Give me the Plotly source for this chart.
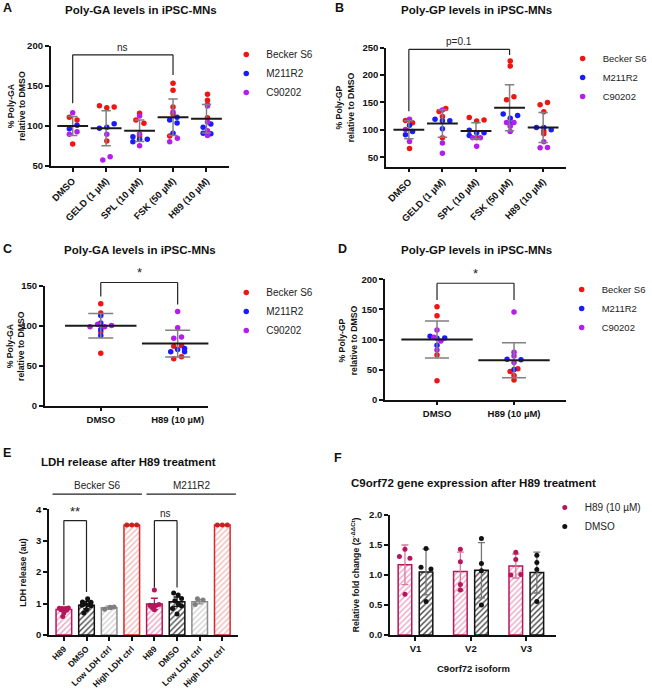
import plotly.graph_objects as go

W, H = 652, 692
FONT = "Liberation Sans"

# ---------------- data ----------------
treatments = ["DMSO", "GELD (1 µM)", "SPL (10 µM)", "FSK (50 µM)", "H89 (10 µM)"]
treatments_2 = ["DMSO", "H89 (10 µM)"]
cell_lines = ["Becker S6", "M211R2", "C90202"]
cell_codes = ["B", "M", "C"]

# panel A: poly-GA, 5 treatments (group index, cell line code, value, jitter)
a_grp = [0, 0, 0, 0, 0, 0, 0, 0,
         1, 1, 1, 1, 1, 1, 1, 1, 1, 1,
         2, 2, 2, 2, 2, 2, 2, 2, 2, 2, 2,
         3, 3, 3, 3, 3, 3, 3, 3, 3, 3, 3, 3,
         4, 4, 4, 4, 4, 4, 4, 4, 4, 4, 4, 4]
a_cell = "CBBMMCCB" "BBBMMMCBCC" "BCBBCBMMMMC" "BBBCBMMMMBCC" "BBBCBCMMCMMC"
a_val = [116.7, 110.8, 107.5, 100.8, 96.7, 92.9, 89.6, 77.5,
         125.4, 122.9, 123.8, 102.9, 98.3, 97.1, 89.6, 81.3, 61.7, 57.5,
         115.8, 112.5, 107.5, 103.3, 90.0, 87.5, 86.7, 83.3, 83.3, 80.4, 75.4,
         153.3, 144.6, 123.8, 117.5, 115.0, 110.8, 107.5, 103.8, 90.8, 87.5, 84.6, 80.4,
         139.6, 132.1, 127.0, 125.0, 110.4, 105.0, 98.3, 102.5, 94.2, 90.8, 90.4, 88.0]
a_dx = [0, -0.1, 0.13, 0.13, -0.1, 0.13, -0.1, 0,
        -0.2, 0.02, 0.24, 0.24, 0.02, -0.2, 0.02, 0.02, 0.12, -0.1,
        0, 0, -0.11, 0.13, 0, 0, -0.2, 0, 0.23, -0.2, 0,
        0, 0, 0, 0, 0, 0.12, -0.1, 0.12, 0, -0.1, 0.13, -0.1,
        0.03, 0.03, 0.03, 0.03, 0.03, 0.03, -0.1, 0.13, 0.03, -0.1, 0.13, 0.03]
a_mean = [100, 97.2, 94.0, 110.9, 109.1]
a_sd = [11.8, 21.9, 13.5, 22.9, 17.9]

# panel B: poly-GP, 5 treatments
b_grp = [0, 0, 0, 0, 0, 0, 0, 0, 0,
         1, 1, 1, 1, 1, 1, 1, 1, 1, 1, 1,
         2, 2, 2, 2, 2, 2, 2, 2, 2, 2, 2,
         3, 3, 3, 3, 3, 3, 3, 3, 3, 3, 3, 3,
         4, 4, 4, 4, 4, 4, 4, 4, 4, 4, 4]
b_cell = "CBBMCMMCB" "BCBBMMMMBCC" "BBBMMMMCBCC" "BBBBMMMCCMCC" "BBBMMMBBCCC"
b_val = [119.5, 117.0, 112.8, 108.5, 100.6, 97.0, 91.0, 78.7, 65.9,
         139.0, 136.0, 133.5, 124.4, 119.5, 116.5, 116.5, 101.8, 85.4, 76.0, 57.3,
         122.6, 116.0, 118.0, 99.4, 94.5, 94.5, 89.6, 85.4, 85.4, 85.4, 70.0,
         225.6, 216.5, 160.4, 154.9, 128.7, 126.2, 121.3, 113.4, 113.4, 111.0, 106.7, 97.0,
         145.7, 150.0, 132.9, 104.3, 104.3, 100.0, 97.6, 92.7, 78.0, 67.0, 67.6]
b_dx = [0.02, -0.1, 0.11, 0.02, -0.1, 0.11, -0.1, 0.02, 0.02,
        0.1, 0, -0.1, 0, -0.22, 0, 0.22, 0, 0, 0, 0,
        -0.2, 0.02, 0.24, -0.2, 0.02, 0.24, -0.2, -0.1, 0.02, 0.13, 0.02,
        0.02, 0.02, 0.13, -0.09, -0.19, 0.24, 0.02, -0.09, 0.13, 0.02, 0.02, 0.02,
        -0.09, 0.13, 0.02, -0.2, 0.02, 0.24, 0.02, 0.02, 0.02, -0.09, 0.13]
b_mean = [100, 111.6, 98.0, 140.2, 104.3]
b_sd = [16.5, 25.2, 15.0, 42.0, 27.5]

# panel C: poly-GA, DMSO vs H89
c_grp = [0, 0, 0, 0, 0, 0, 0, 0, 0, 0, 0, 0,
         1, 1, 1, 1, 1, 1, 1, 1, 1, 1, 1, 1]
c_cell = "BBMMCCCCMBMB" "CCCCBBMMMMBB"
c_val = [127.4, 115.8, 112.6, 103.5, 101.9, 98.6, 98.6, 100.2, 95.3, 92.0, 87.9, 65.6,
         117.9, 97.3, 84.2, 85.8, 74.3, 75.1, 70.2, 71.4, 67.3, 67.3, 58.6, 61.1]
c_dx = [0, 0, 0, 0, -0.04, -0.14, 0.05, 0.14, 0, 0, 0, 0,
        0, 0, -0.05, 0.05, -0.05, 0.05, 0, 0.09, 0.09, -0.09, -0.05, 0.05]
c_mean = [100, 77.6]
c_sd = [15.4, 16.7]

# panel D: poly-GP, DMSO vs H89
d_grp = [0, 0, 0, 0, 0, 0, 0, 0, 0, 0, 0, 0,
         1, 1, 1, 1, 1, 1, 1, 1, 1, 1, 1]
d_cell = "BBCMCMMCMCBB" "CCCMMCMBBBB"
d_val = [154.6, 139.6, 115.8, 105.3, 103.6, 101.9, 102.5, 97.5, 90.3, 82.5, 74.2, 31.6,
         145.7, 79.0, 72.6, 67.0, 66.5, 62.0, 50.0, 51.5, 47.0, 40.4, 32.7]
d_dx = [0, 0, 0, -0.09, -0.04, 0, 0.1, 0.05, 0, 0, 0, 0,
        0, 0, 0, -0.09, 0.09, 0, 0, 0.05, -0.05, 0, 0]
d_mean = [100, 65.4]
d_sd = [30.7, 29.1]

# panel E: LDH release
e_labels = ["H89", "DMSO", "Low LDH ctrl", "High LDH ctrl",
            "H89", "DMSO", "Low LDH ctrl", "High LDH ctrl"]
e_groups = ["Becker S6", "M211R2"]
e_mean = [0.81, 0.95, 0.87, 3.5, 0.99, 1.06, 1.06, 3.5]
e_sd = [0.05, 0.12, 0.05, 0.0, 0.18, 0.15, 0.07, 0.0]
e_pt_bar = [0, 0, 0, 0, 0, 0, 0, 0,
            1, 1, 1, 1, 1, 1, 1, 1, 1,
            2, 2, 2,
            3, 3, 3,
            4, 4, 4, 4, 4, 4, 4,
            5, 5, 5, 5, 5, 5, 5, 5,
            6, 6, 6,
            7, 7, 7]
e_pt_val = [0.85, 0.84, 0.84, 0.86, 0.80, 0.79, 0.70, 0.59,
            1.15, 1.05, 1.04, 0.98, 0.96, 0.95, 0.93, 0.80, 0.70,
            0.82, 0.88, 0.89,
            3.5, 3.5, 3.5,
            1.43, 0.95, 0.93, 0.94, 0.97, 0.80, 0.88,
            1.34, 1.27, 1.16, 1.09, 1.00, 0.92, 0.84, 0.67,
            1.15, 1.11, 0.97,
            3.5, 3.5, 3.5]
e_pt_dx = [-0.2, -0.07, 0.07, 0.2, -0.12, 0.12, 0, -0.05,
           0.05, -0.18, 0.2, -0.1, 0.1, -0.2, 0.2, 0, -0.12,
           -0.2, 0.05, 0.22,
           -0.22, 0, 0.22,
           0, -0.2, -0.07, 0.07, 0.2, 0, -0.12,
           -0.15, 0.05, 0.2, -0.1, 0.05, 0.2, -0.2, 0,
           -0.1, 0.15, -0.2,
           -0.22, 0, 0.22]

# panel F: C9orf72 expression
f_iso = ["V1", "V2", "V3"]
f_series = ["H89 (10 µM)", "DMSO"]
f_h89_mean = [1.17, 1.06, 1.15]
f_h89_sd = [0.33, 0.32, 0.20]
f_dmso_mean = [1.05, 1.08, 1.04]
f_dmso_sd = [0.38, 0.46, 0.34]
f_grp = [0, 0, 0, 0, 1, 1, 1, 1, 2, 2, 2, 2]
f_h89_val = [1.31, 1.43, 1.28, 0.68, 1.43, 1.22, 0.84, 0.75, 1.38, 1.26, 1.00, 1.01]
f_h89_dx = [-0.1, 0.0, 0.09, 0, 0, 0, 0, 0, 0, 0, -0.09, 0.09]
f_dmso_val = [1.44, 1.13, 1.10, 0.56, 1.61, 1.19, 1.07, 0.50, 1.33, 1.21, 1.09, 0.56]
f_dmso_dx = [0, -0.09, 0.09, 0, 0, 0, 0, 0, 0, 0, 0, 0]

# ---------------- styles ----------------
cell_colors = ["#f01414", "#1a1aff", "#b41cf0"]
e_outline = ["#b8145c", "#111111", "#8c8c8c", "#d42a2a"]
e_hatch = ["#e9a3c0", "#4a4a4a", "#d2d2d2", "#f3b9b9"]
e_dot = ["#b8145c", "#111111", "#7f7f7f", "#cc1f1f"]
H89_COL = "#b8145c"
INK = "#111111"


def fx(p):
    return p / W


def fy(p):
    return 1 - p / H


def axis(dom, rng, anchor, **kw):
    d = dict(domain=dom, range=rng, anchor=anchor, showline=True, linecolor=INK,
             linewidth=1.5, ticks="outside", ticklen=4, tickwidth=1.5, tickcolor=INK,
             showgrid=False, zeroline=False, fixedrange=True,
             tickfont=dict(family=FONT, size=9.5, color=INK, weight="bold"))
    d.update(kw)
    return d


fig = go.Figure()


def dot_panel(n, grp, cell, val, dx, mean, sd, legend, mean_size, cap):
    xa, ya = "x" + n, "y" + n
    for k, code in enumerate(cell_codes):
        idx = [i for i, c in enumerate(cell) if c == code]
        fig.add_trace(go.Scatter(
            x=[grp[i] + dx[i] for i in idx], y=[val[i] for i in idx],
            mode="markers", name=cell_lines[k], legend=legend,
            marker=dict(color=cell_colors[k], size=5.5),
            xaxis=xa, yaxis=ya, cliponaxis=False))
    fig.add_trace(go.Scatter(
        x=list(range(len(mean))), y=mean, mode="markers", showlegend=False,
        marker=dict(symbol="line-ew", size=mean_size, line=dict(color="#1a1a1a", width=2)),
        error_y=dict(type="data", array=sd, color="#808080", thickness=1.5, width=cap),
        xaxis=xa, yaxis=ya))


dot_panel("", a_grp, a_cell, a_val, a_dx, a_mean, a_sd, "legend", 22, 4.7)
dot_panel("2", b_grp, b_cell, b_val, b_dx, b_mean, b_sd, "legend2", 22, 4.7)
dot_panel("3", c_grp, c_cell, c_val, c_dx, c_mean, c_sd, "legend3", 51, 12.5)
dot_panel("4", d_grp, d_cell, d_val, d_dx, d_mean, d_sd, "legend4", 51, 12)

# panel E bars
for k in range(4):
    bars = [k, k + 4]
    fig.add_trace(go.Bar(
        x=bars, y=[e_mean[b] for b in bars], width=0.69, showlegend=False,
        marker=dict(color="white", line=dict(color=e_outline[k], width=1.5),
                    pattern=dict(shape="/", fgcolor=e_hatch[k], bgcolor="white",
                                 size=4, solidity=0.35)),
        error_y=dict(type="data", array=[e_sd[b] for b in bars], color=e_outline[k],
                     thickness=1.3, width=3.5),
        xaxis="x5", yaxis="y5"))
    idx = [i for i, b in enumerate(e_pt_bar) if b % 4 == k]
    fig.add_trace(go.Scatter(
        x=[e_pt_bar[i] + e_pt_dx[i] for i in idx], y=[e_pt_val[i] for i in idx],
        mode="markers", showlegend=False, marker=dict(color=e_dot[k], size=5),
        xaxis="x5", yaxis="y5", cliponaxis=False))

# panel F bars
f_off = 0.19
f_w = 0.245
for s, (mean, sd, vals, dxs, outline, hatch, err, sign) in enumerate([
        (f_h89_mean, f_h89_sd, f_h89_val, f_h89_dx, H89_COL, "#eaa6c2", "#d9789f", -1),
        (f_dmso_mean, f_dmso_sd, f_dmso_val, f_dmso_dx, INK, "#444444", "#777777", 1)]):
    fig.add_trace(go.Bar(
        x=list(range(len(f_iso))), y=mean, width=f_w, offset=sign * f_off - f_w / 2,
        showlegend=False,
        marker=dict(color="white", line=dict(color=outline, width=1.5),
                    pattern=dict(shape="/", fgcolor=hatch, bgcolor="white", size=4,
                                 solidity=0.35)),
        error_y=dict(type="data", array=sd, color=err, thickness=1.3, width=3.5),
        xaxis="x6", yaxis="y6"))
    fig.add_trace(go.Scatter(
        x=[f_grp[i] + sign * f_off + dxs[i] for i in range(len(vals))], y=vals,
        mode="markers", name=f_series[s], legend="legend5",
        marker=dict(color=outline, size=5), xaxis="x6", yaxis="y6", cliponaxis=False))

# ---------------- layout ----------------
lay = dict(
    xaxis=axis([fx(51), fx(231)], [-0.66, 4.68], "y", tickvals=list(range(5)),
               ticktext=treatments, tickangle=-45),
    yaxis=axis([fy(166), fy(46)], [50, 200], "x", tickvals=[50, 100, 150, 200]),
    xaxis2=axis([fx(389), fx(570)], [-0.68, 4.67], "y2", tickvals=list(range(5)),
                ticktext=treatments, tickangle=-45),
    yaxis2=axis([fy(166.7), fy(47.7)], [32.6, 250], "x2", tickvals=[50, 100, 150, 200, 250]),
    xaxis3=axis([fx(45), fx(210)], [-0.73, 1.40], "y3", tickvals=[0, 1], ticktext=treatments_2),
    yaxis3=axis([fy(405.7), fy(285.7)], [0, 150], "x3", tickvals=[0, 50, 100, 150]),
    xaxis4=axis([fx(388), fx(570)], [-0.675, 1.67], "y4", tickvals=[0, 1], ticktext=treatments_2),
    yaxis4=axis([fy(399.7), fy(279.3)], [0, 200], "x4", tickvals=[0, 50, 100, 150, 200]),
    xaxis5=axis([fx(49.3), fx(240)], [-0.66, 7.7], "y5", tickvals=list(range(8)),
                ticktext=e_labels, tickangle=-45,
                tickfont=dict(family=FONT, size=8.5, color=INK, weight="bold")),
    yaxis5=axis([fy(635), fy(509.3)], [0, 4], "x5", tickvals=[0, 1, 2, 3, 4]),
    xaxis6=axis([fx(393), fx(560)], [-0.46, 2.53], "y6", tickvals=[0, 1, 2], ticktext=f_iso),
    yaxis6=axis([fy(635), fy(515)], [0, 2], "x6", tickvals=[0, 0.5, 1, 1.5, 2],
                tickformat=".1f"),
)


def legend_at(x, y, size=10):
    return dict(x=fx(x), y=fy(y), xanchor="left", yanchor="top", borderwidth=0,
                bgcolor="rgba(0,0,0,0)", font=dict(family=FONT, size=size, color="#222"))


lay["legend"] = legend_at(228, 40)
lay["legend2"] = legend_at(567, 44, 9.5)
lay["legend3"] = legend_at(228, 278)
lay["legend4"] = legend_at(566, 275, 9.5)
lay["legend5"] = legend_at(549, 493)

fig.update_layout(width=W, height=H, margin=dict(l=0, r=0, t=0, b=0),
                  template="none", paper_bgcolor="white", plot_bgcolor="white",
                  barmode="overlay", font=dict(family=FONT, color=INK), **lay)

ann = []
shapes = []


def text(x, y, s, size=11.5, bold=True, anchor="center", angle=0, color=INK):
    ann.append(dict(x=fx(x), y=fy(y), xref="paper", yref="paper", text=s, showarrow=False,
                    xanchor=anchor, yanchor="middle", textangle=angle,
                    font=dict(family=FONT, size=size, color=color,
                              weight="bold" if bold else "normal")))


# panel letters and titles
for letter, x, y in [("A", 1, 8), ("B", 336, 8), ("C", 1, 249), ("D", 339, 249),
                     ("E", 1, 453), ("F", 335, 458)]:
    text(x, y, letter, size=12.5, anchor="left")
text(142, 10, "Poly-GA levels in iPSC-MNs")
text(480, 10, "Poly-GP levels in iPSC-MNs")
text(141, 250, "Poly-GA levels in iPSC-MNs")
text(480, 250, "Poly-GP levels in iPSC-MNs")
text(129, 462, "LDH release after H89 treatment")
text(477, 483, "C9orf72 gene expression after H89 treatment")

# y axis titles
text(17, 106, "% Poly-GA<br>relative to DMSO", size=8.7, angle=-90)
text(347, 107, "% Poly-GP<br>relative to DMSO", size=8.7, angle=-90)
text(15, 346, "% Poly-GA<br>relative to DMSO", size=8.7, angle=-90)
text(350, 340, "% Poly-GP<br>relative to DMSO", size=8.7, angle=-90)
text(23, 572, "LDH release (au)", size=8.7, angle=-90)
text(358, 575, "Relative fold change (2<sup>-ΔΔCt</sup>)", size=8.7, angle=-90)
text(477, 668, "C9orf72 isoform", size=9.5)


# significance brackets, given in axis values
def bracket(n, rng, x0, x1, y_left, y_right, y_top, label, size=10):
    xr, yr = "x" + n, "y" + n + " domain"
    f = lambda v: (v - rng[0]) / (rng[1] - rng[0])
    line = dict(color="#222", width=1.2)
    for (xa, ya, xb, yb) in [(x0, y_left, x0, y_top), (x0, y_top, x1, y_top),
                             (x1, y_top, x1, y_right)]:
        shapes.append(dict(type="line", xref=xr, yref=yr, x0=xa, x1=xb, y0=f(ya), y1=f(yb),
                           line=line))
    ann.append(dict(x=(x0 + x1) / 2, y=f(y_top), xref=xr, yref=yr, text=label,
                    showarrow=False, yanchor="bottom", yshift=0,
                    font=dict(family=FONT, size=size, color="#222")))


bracket("", [50, 200], 0, 3, 128.3, 163.8, 189, "ns")
bracket("2", [32.6, 250], 0, 3, 134, 236.6, 247, "p=0.1")
bracket("3", [0, 150], 0, 1, 136.4, 126.5, 154, "*", 13)
bracket("4", [0, 200], 0, 1, 165.6, 165.6, 193.4, "*", 13)
bracket("5", [0, 4], 0, 1, 0.95, 1.37, 3.64, "**", 13)
bracket("5", [0, 4], 4, 5, 1.51, 1.51, 3.64, "ns")

# cell line groups over panel E
for g, (x0, x1) in zip(e_groups, [(-0.5, 3.45), (3.65, 7.6)]):
    shapes.append(dict(type="line", xref="x5", yref="y5 domain", x0=x0, x1=x1,
                       y0=1.12, y1=1.12, line=dict(color="#222", width=1.2)))
    ann.append(dict(x=(x0 + x1) / 2, y=1.12, xref="x5", yref="y5 domain", text=g,
                    showarrow=False, yanchor="bottom", yshift=1,
                    font=dict(family=FONT, size=10, color="#222")))

fig.update_layout(annotations=ann, shapes=shapes)
# the page body has a default 8px margin; drop it so the figure fills the window
fig.write_html("out.html", config={"displayModeBar": False},
               post_script="document.body.style.margin = '0';")
